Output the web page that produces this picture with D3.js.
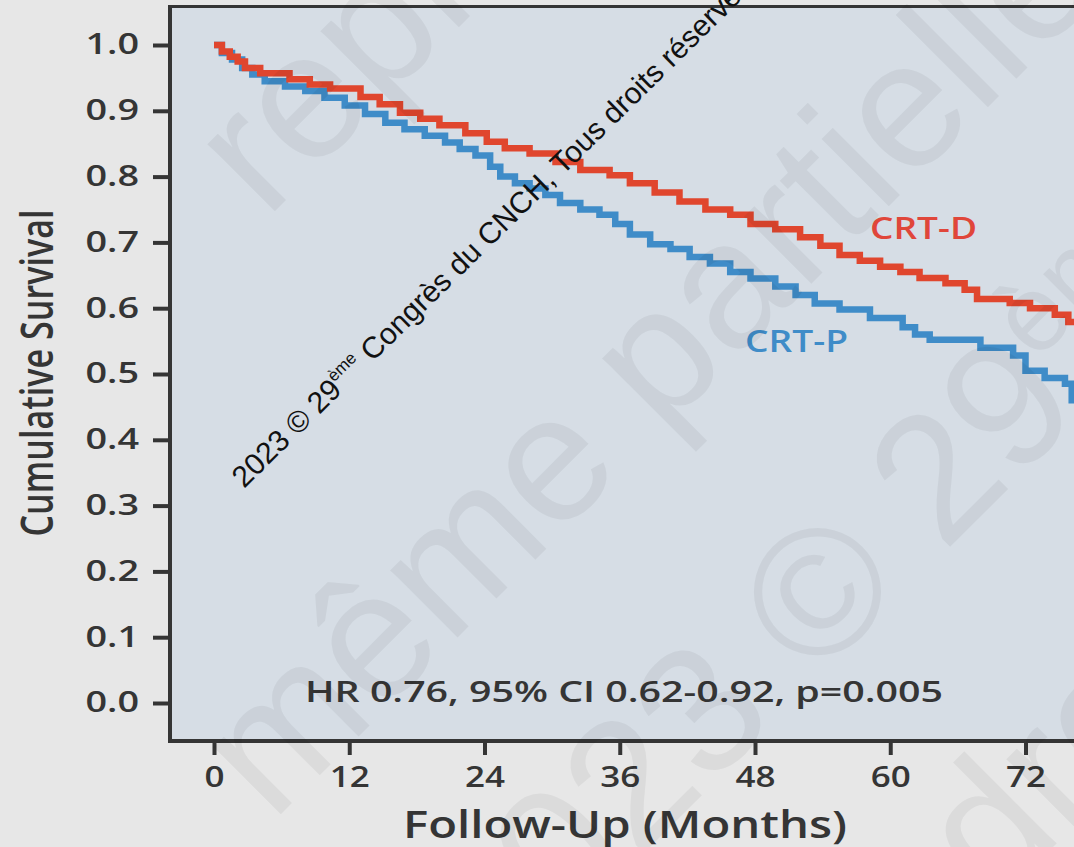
<!DOCTYPE html>
<html>
<head>
<meta charset="utf-8">
<script src="https://cdn.jsdelivr.net/npm/d3@7"></script>
<style>
  html, body { margin: 0; padding: 0; background: #e7e7e7; overflow: hidden; }
  svg { display: block; }
</style>
</head>
<body>
<svg id="chart" width="1074" height="847"></svg>
<script>
// Kaplan-Meier survival, CRT-D vs CRT-P (months of follow-up)
const crtdMonths = [0, 0.7, 1.4, 2.1, 2.75, 4.1, 6.7, 8.5, 10.3, 13, 14.7, 16.5, 18.3, 20, 22.3, 24.2, 25.8, 28, 30.3, 32.5, 35.1, 36.9, 39.1, 41.3, 43.6, 45.8, 47.6, 49.8, 52, 53.8, 55.5, 57.3, 59.1, 60.9, 62.6, 64.9, 66.6, 67.7, 70.6, 72.4, 74.6, 75.8, 77];
const crtdSurv   = [1.0, 0.99, 0.982, 0.975, 0.965, 0.957, 0.948, 0.94, 0.934, 0.921, 0.91, 0.897, 0.888, 0.878, 0.866, 0.853, 0.843, 0.835, 0.822, 0.81, 0.802, 0.79, 0.776, 0.762, 0.75, 0.742, 0.728, 0.72, 0.708, 0.695, 0.681, 0.672, 0.663, 0.655, 0.646, 0.638, 0.628, 0.614, 0.608, 0.6, 0.59, 0.579, 0.579];

const crtpMonths = [0, 0.7, 1.6, 2.5, 3.4, 4.5, 6.3, 8.1, 9.8, 11.6, 13.4, 15.2, 16.9, 18.7, 20.5, 21.8, 23.2, 24.5, 25.4, 26.7, 28, 29.4, 30.7, 32.5, 34.2, 35.6, 36.9, 38.7, 40.5, 42.2, 44, 45.8, 47.6, 49.8, 51.6, 53.3, 55.5, 58.2, 61.1, 62.2, 63.5, 68, 70.9, 72, 73.7, 75.5, 76.1, 77];
const crtpSurv   = [1.0, 0.988, 0.978, 0.965, 0.955, 0.945, 0.937, 0.93, 0.92, 0.908, 0.895, 0.882, 0.872, 0.862, 0.852, 0.842, 0.832, 0.815, 0.8, 0.79, 0.782, 0.772, 0.76, 0.75, 0.742, 0.728, 0.712, 0.697, 0.69, 0.678, 0.668, 0.655, 0.645, 0.633, 0.62, 0.607, 0.598, 0.585, 0.571, 0.56, 0.552, 0.54, 0.528, 0.505, 0.494, 0.485, 0.46, 0.46];

const xTicks = [0, 12, 24, 36, 48, 60, 72];
const yTicks = [0, 0.1, 0.2, 0.3, 0.4, 0.5, 0.6, 0.7, 0.8, 0.9, 1.0];
const seriesNames = ["CRT-D", "CRT-P"];
const statsText = "HR 0.76, 95% CI 0.62-0.92, p=0.005";
const xTitle = "Follow-Up (Months)";
const yTitle = "Cumulative Survival";
const noticeMain = "2023 © 29";
const noticeSup = "ème";
const noticeRest = " Congrès du CNCH, Tous droits réservés";
const bgWords = ["reproduction", "même partielle", "2023 © 29", "ème", "Tous droits réservés"];

const svg = d3.select("#chart");
const W = 1074, H = 847;
const frame = { left: 170, top: 6.5, bottom: 741 };

const x = d3.scaleLinear().domain([0, 72]).range([214, 1025.5]);
const y = d3.scaleLinear().domain([0, 1]).range([703, 45]);

const textFont = "'Open Sans', 'Noto Sans', sans-serif";
const ink = "#353535";

// page and plotting panel
svg.append("rect").attr("width", W).attr("height", H).attr("fill", "#e7e7e7");
svg.append("rect")
  .attr("x", frame.left).attr("y", frame.top)
  .attr("width", W - frame.left + 10).attr("height", frame.bottom - frame.top)
  .attr("fill", "#d6dde5");

// survival curves
svg.append("clipPath").attr("id", "panel")
  .append("rect").attr("x", frame.left + 2).attr("y", frame.top + 2)
  .attr("width", W).attr("height", frame.bottom - frame.top - 4);

const line = d3.line().curve(d3.curveStepAfter).x(d => x(d[0])).y(d => y(d[1]));
const curves = svg.append("g").attr("clip-path", "url(#panel)");
curves.append("path")
  .datum(d3.zip(crtpMonths, crtpSurv))
  .attr("d", line).attr("fill", "none")
  .attr("stroke", "#3f8cc8").attr("stroke-width", 6.5).attr("stroke-linejoin", "miter");
curves.append("path")
  .datum(d3.zip(crtdMonths, crtdSurv))
  .attr("d", line).attr("fill", "none")
  .attr("stroke", "#e0462e").attr("stroke-width", 6.5).attr("stroke-linejoin", "miter");

// axes
const yAxis = svg.append("g")
  .attr("transform", `translate(${frame.left - 2},0)`)
  .call(d3.axisLeft(y).tickValues(yTicks).tickFormat(d3.format(".1f")).tickSize(15).tickPadding(14));
const xAxis = svg.append("g")
  .attr("transform", `translate(0,${frame.bottom + 2})`)
  .call(d3.axisBottom(x).tickValues(xTicks).tickFormat(d3.format("d")).tickSize(12).tickPadding(12));

[yAxis, xAxis].forEach(g => {
  g.select(".domain").remove();
  g.selectAll(".tick line").attr("stroke", ink).attr("stroke-width", 4);
  g.selectAll(".tick text")
    .attr("fill", ink).attr("font-family", textFont)
    .attr("font-size", 28).attr("font-weight", 600);
});
xAxis.selectAll(".tick text").attr("dy", "0.71em");
// the digits in this typeface run wide
yAxis.selectAll(".tick text").each(function () {
  const len = this.getComputedTextLength();
  d3.select(this).attr("textLength", len * 1.35).attr("lengthAdjust", "spacingAndGlyphs");
});
xAxis.selectAll(".tick text").each(function () {
  const len = this.getComputedTextLength();
  d3.select(this).attr("textLength", len * 1.25).attr("lengthAdjust", "spacingAndGlyphs");
});

// frame lines
svg.append("line").attr("x1", frame.left).attr("x2", frame.left)
  .attr("y1", frame.top - 1.5).attr("y2", frame.bottom + 2)
  .attr("stroke", ink).attr("stroke-width", 4);
svg.append("line").attr("x1", frame.left - 2).attr("x2", W)
  .attr("y1", frame.bottom).attr("y2", frame.bottom)
  .attr("stroke", ink).attr("stroke-width", 4);
svg.append("line").attr("x1", frame.left - 2).attr("x2", W)
  .attr("y1", frame.top).attr("y2", frame.top)
  .attr("stroke", ink).attr("stroke-width", 3);

// titles
svg.append("text")
  .attr("transform", "translate(53,373) rotate(-90)")
  .attr("text-anchor", "middle")
  .attr("font-family", textFont).attr("font-size", 46).attr("font-weight", 600)
  .attr("fill", ink)
  .attr("textLength", 327).attr("lengthAdjust", "spacingAndGlyphs")
  .text(yTitle);

svg.append("text")
  .attr("x", 625).attr("y", 838)
  .attr("text-anchor", "middle")
  .attr("font-family", textFont).attr("font-size", 38).attr("font-weight", 600)
  .attr("fill", ink)
  .attr("textLength", 444).attr("lengthAdjust", "spacingAndGlyphs")
  .text(xTitle);

// statistics and series labels
svg.append("text")
  .attr("x", 305).attr("y", 702)
  .attr("font-family", textFont).attr("font-size", 29).attr("font-weight", 600)
  .attr("fill", ink)
  .attr("textLength", 638).attr("lengthAdjust", "spacingAndGlyphs")
  .text(statsText);

svg.append("text")
  .attr("x", 870).attr("y", 239)
  .attr("font-family", textFont).attr("font-size", 30).attr("font-weight", 600)
  .attr("fill", "#e0463a")
  .attr("textLength", 107).attr("lengthAdjust", "spacingAndGlyphs")
  .text(seriesNames[0]);

svg.append("text")
  .attr("x", 745).attr("y", 352)
  .attr("font-family", textFont).attr("font-size", 30).attr("font-weight", 600)
  .attr("fill", "#3f8cc8")
  .attr("textLength", 103).attr("lengthAdjust", "spacingAndGlyphs")
  .text(seriesNames[1]);

// large faint diagonal background lettering
const bg = svg.append("g")
  .attr("font-family", "'Liberation Sans', Arial, sans-serif")
  .attr("font-size", 180)
  .attr("fill", "#000").attr("fill-opacity", 0.05);

bg.append("text").attr("transform", "translate(266,220) rotate(-45)").text(bgWords[0]);
bg.append("text").attr("transform", "translate(272,823) rotate(-45)").text(bgWords[1]);
const bgLine3 = bg.append("text").attr("transform", "translate(496,1001) rotate(-45)");
bgLine3.append("tspan").text(bgWords[2]);
bgLine3.append("tspan").attr("font-size", 108).attr("dy", -70).text(bgWords[3]);
bg.append("text").attr("transform", "translate(690,1210) rotate(-45)").text(bgWords[4]);

// diagonal notice
const notice = svg.append("text")
  .attr("transform", "translate(244,489) rotate(-44.5)")
  .attr("font-family", "'Liberation Sans', Arial, sans-serif")
  .attr("font-size", 30).attr("fill", "#111");
notice.append("tspan").text(noticeMain);
notice.append("tspan").attr("font-size", 17).attr("dy", -13).text(noticeSup);
notice.append("tspan").attr("dy", 13).text(noticeRest);
</script>
</body>
</html>
